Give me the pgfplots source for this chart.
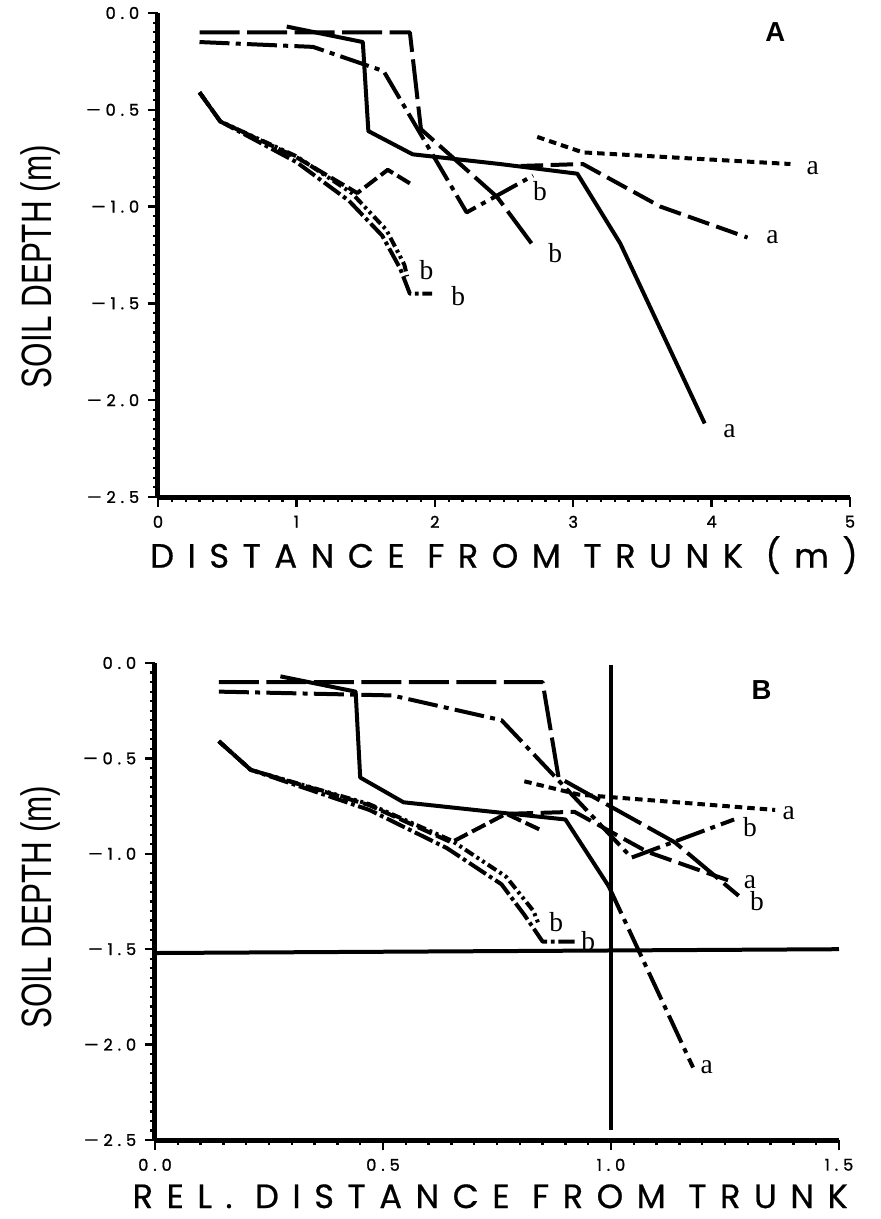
\documentclass[border=0pt]{standalone}
\usepackage{pgfplots}
\pgfplotsset{compat=1.18}
\usepackage{fontspec}
\setmainfont{Liberation Serif}
\newfontfamily\geo[LetterSpace=40,FakeBold=0.6]{Poppins}
\newfontfamily\tickf[LetterSpace=30,FakeBold=1.2]{Poppins}
\newfontfamily\hel{Liberation Sans}

% line styles
\tikzset{
  lsolid/.style={solid},
  ldot/.style={dash pattern=on 3pt off 2pt},
  lmed/.style={dash pattern=on 9pt off 3pt},
  llong/.style={dash pattern=on 16pt off 3pt},
  ldashdot/.style={dash pattern=on 12pt off 2.5pt on 2pt off 2.5pt},
  lddot/.style={dash pattern=on 4pt off 1.5pt on 1.2pt off 1.5pt on 1.2pt off 1.5pt},
  ldd/.style={dash pattern=on 8pt off 1.5pt on 1.5pt off 1.5pt},
  lstub/.style={dash pattern=on 6pt off 2pt},
}
\pgfplotsset{
  soil/.style={
    scale only axis,
    axis x line*=bottom, axis y line*=left,
    axis line style={line width=2pt},
    tick align=outside,
    major tick length=4pt, minor tick length=2pt,
    every tick/.style={line width=0.9pt,black},
    ymin=-2.5, ymax=0,
    ytick={-2.5,-2,-1.5,-1,-0.5,0},
    yticklabels={—2.5,—2.0,—1.5,—1.0,—0.5,0.0},
    minor y tick num=9, minor x tick num=9,
    tick label style={font=\tickf\fontsize{6.5}{7}\selectfont},
    every axis plot/.append style={line width=1.6pt,black,line join=round,mark=none},
    clip=false,
  },
}
\newcommand{\lab}[1]{\fontsize{11}{12}\selectfont #1}

\begin{document}
\begin{tikzpicture}
\useasboundingbox (-63.2pt,-288.8pt) rectangle (289.2pt,198.8pt);

% ---------- panel A ----------
\begin{axis}[soil,
  at={(0pt,0pt)}, anchor=south west,
  width=276.8pt, height=193.6pt,
  xmin=0, xmax=5, xtick={0,1,2,3,4,5}, xticklabels={0,1,2,3,4,5},
  xlabel={\geo\fontsize{13.5}{15}\selectfont DISTANCE FROM TRUNK (m)},
  xlabel style={at={(axis description cs:0.50,-0.12)},anchor=center},
  ylabel={\scalebox{0.74}[1]{\hel\fontsize{17}{18}\selectfont SOIL DEPTH (m)}},
  ylabel style={at={(axis description cs:-0.17,0.476)},anchor=center,rotate=0},
]
\addplot[lsolid] coordinates {(0.93,-0.07)(1.48,-0.15)(1.52,-0.61)(1.84,-0.73)(2.47,-0.78)(3.03,-0.83)(3.34,-1.19)(3.95,-2.12)};
\addplot[ldot] coordinates {(2.74,-0.64)(3.07,-0.72)(4.57,-0.78)};
\addplot[lmed] coordinates {(2.62,-0.79)(3.07,-0.78)(3.63,-1.00)(4.26,-1.16)};
\addplot[llong] coordinates {(0.30,-0.10)(1.82,-0.10)(1.90,-0.60)(2.45,-0.95)(2.73,-1.22)};
\addplot[ldashdot] coordinates {(0.30,-0.15)(1.12,-0.175)(1.63,-0.30)(2.23,-1.03)(2.71,-0.84)};
\addplot[lddot] coordinates {(0.30,-0.41)(0.45,-0.56)(1.00,-0.74)(1.40,-0.93)(1.65,-1.12)(1.78,-1.30)(1.80,-1.36)};
\addplot[ldd] coordinates {(0.30,-0.41)(0.45,-0.56)(1.00,-0.77)(1.38,-0.97)(1.62,-1.15)(1.75,-1.32)(1.82,-1.45)(1.98,-1.45)};
\addplot[lstub] coordinates {(0.30,-0.41)(0.45,-0.56)(1.00,-0.745)(1.44,-0.93)(1.66,-0.81)(1.82,-0.88)};
\node at (axis cs:4.73,-0.80) {\lab{a}};
\node at (axis cs:4.44,-1.16) {\lab{a}};
\node at (axis cs:4.13,-2.16) {\lab{a}};
\node at (axis cs:2.76,-0.92) {\lab{b}};
\node at (axis cs:2.87,-1.24) {\lab{b}};
\node at (axis cs:1.94,-1.33) {\lab{b}};
\node at (axis cs:2.17,-1.46) {\lab{b}};
\node[font=\hel\bfseries\fontsize{11}{12}\selectfont] at (axis cs:4.46,-0.10) {A};
\end{axis}

% ---------- panel B ----------
\begin{axis}[soil,
  at={(-1.2pt,-257.2pt)}, anchor=south west,
  width=273.6pt, height=190.8pt,
  xmin=0, xmax=1.5, xtick={0,0.5,1,1.5}, xticklabels={0.0,0.5,1.0,1.5},
  xlabel={\geo\fontsize{13.5}{15}\selectfont REL. DISTANCE FROM TRUNK},
  xlabel style={at={(axis description cs:0.49,-0.118)},anchor=center},
  ylabel={\scalebox{0.74}[1]{\hel\fontsize{17}{18}\selectfont SOIL DEPTH (m)}},
  ylabel style={at={(axis description cs:-0.168,0.488)},anchor=center,rotate=0},
]
\addplot[lsolid] coordinates {(1.0,-0.01)(1.0,-2.45)};
\addplot[lsolid] coordinates {(0,-1.52)(1.5,-1.50)};
\addplot[lsolid] coordinates {(0.275,-0.07)(0.44,-0.15)(0.45,-0.60)(0.545,-0.73)(0.74,-0.78)(0.90,-0.82)(0.995,-1.17)};
\addplot[ldashdot] coordinates {(0.995,-1.17)(1.18,-2.12)};
\addplot[ldot] coordinates {(0.81,-0.62)(0.93,-0.69)(1.36,-0.77)};
\addplot[lmed] coordinates {(0.78,-0.79)(0.92,-0.78)(1.08,-0.99)(1.27,-1.15)};
\addplot[llong] coordinates {(0.14,-0.10)(0.85,-0.10)(0.885,-0.60)(1.14,-0.94)(1.28,-1.22)};
\addplot[ldashdot] coordinates {(0.14,-0.15)(0.52,-0.17)(0.76,-0.30)(1.045,-1.02)(1.27,-0.82)};
\addplot[lddot] coordinates {(0.14,-0.41)(0.21,-0.56)(0.47,-0.74)(0.65,-0.93)(0.77,-1.12)(0.83,-1.30)(0.84,-1.36)};
\addplot[ldd] coordinates {(0.14,-0.41)(0.21,-0.56)(0.47,-0.77)(0.64,-0.97)(0.76,-1.16)(0.81,-1.32)(0.85,-1.46)(0.92,-1.46)};
\addplot[lstub] coordinates {(0.14,-0.41)(0.21,-0.56)(0.47,-0.745)(0.65,-0.94)(0.77,-0.79)(0.85,-0.88)};
\node at (axis cs:1.39,-0.785) {\lab{a}};
\node at (axis cs:1.305,-0.86) {\lab{b}};
\node at (axis cs:1.305,-1.15) {\lab{a}};
\node at (axis cs:1.32,-1.25) {\lab{b}};
\node at (axis cs:0.88,-1.36) {\lab{b}};
\node at (axis cs:0.95,-1.46) {\lab{b}};
\node at (axis cs:1.21,-2.12) {\lab{a}};
\node[font=\hel\bfseries\fontsize{11}{12}\selectfont] at (axis cs:1.33,-0.14) {B};
\end{axis}
\end{tikzpicture}
\end{document}
